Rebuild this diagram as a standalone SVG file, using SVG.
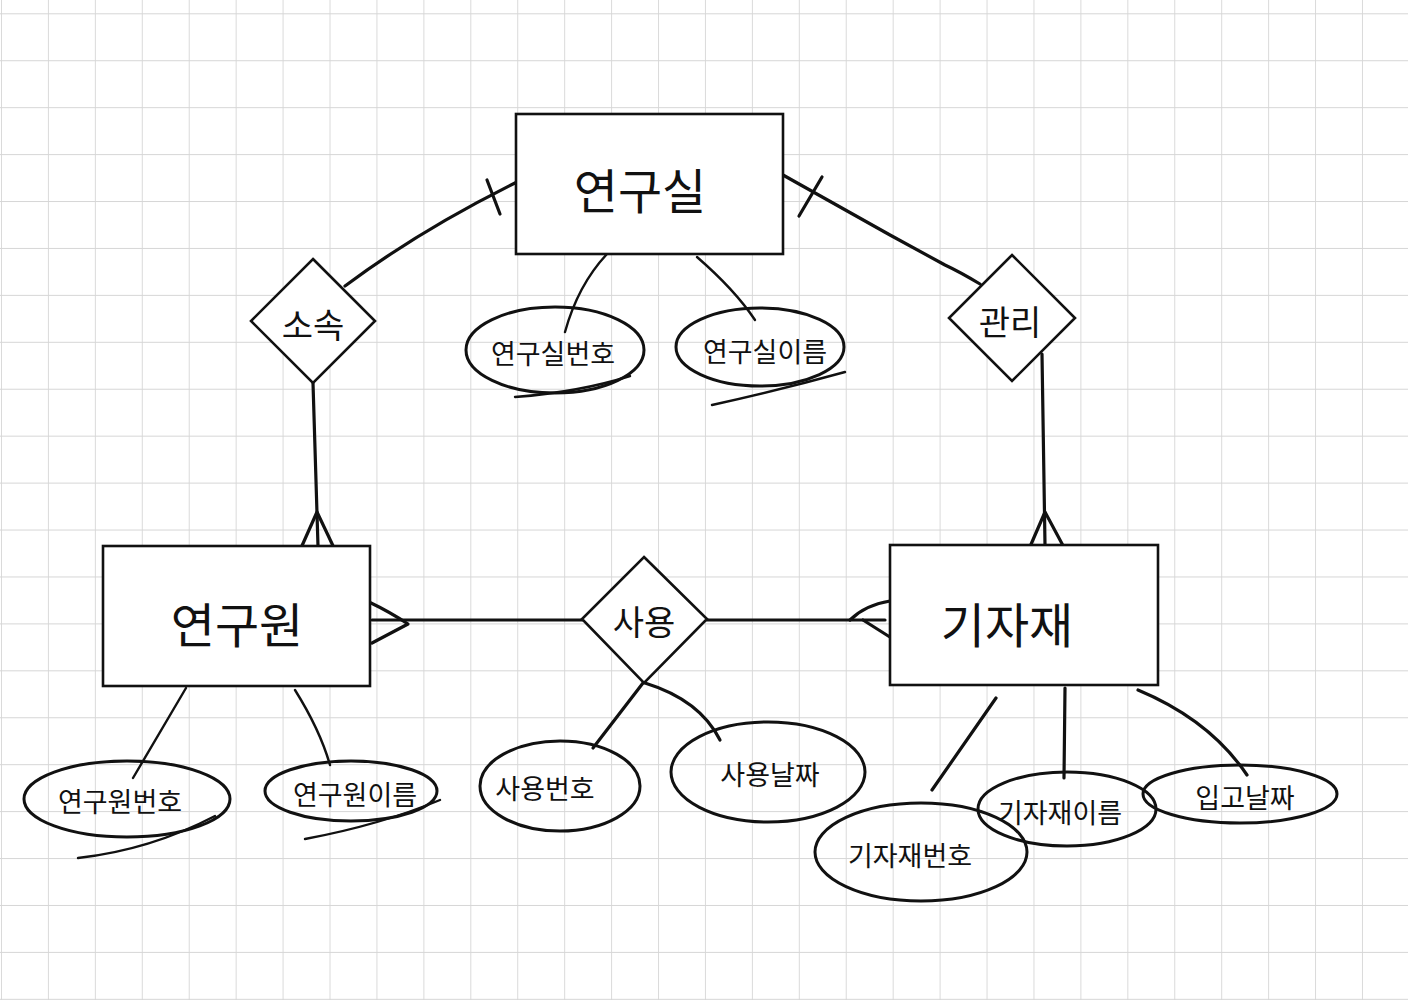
<svg xmlns="http://www.w3.org/2000/svg" width="1408" height="1000" viewBox="0 0 1408 1000">
<defs>
<pattern id="grid" patternUnits="userSpaceOnUse" x="1" y="13.3" width="46.93" height="46.93">
<path d="M0 0 H46.93 M0 0 V46.93" fill="none" stroke="#d6d6d6" stroke-width="1.8"/>
</pattern>
<style>
.ent{fill:#fff;stroke:#111;stroke-width:2.6}
.rel{fill:#fff;stroke:#111;stroke-width:2.6}
.att{fill:none;stroke:#111;stroke-width:3}
.ln{fill:none;stroke:#111;stroke-width:3.2;stroke-linecap:round;stroke-linejoin:round}
.thin{fill:none;stroke:#111;stroke-width:2.4;stroke-linecap:round}
.t{font-family:"Noto Sans CJK KR","Noto Sans",sans-serif;fill:#111;text-anchor:middle;dominant-baseline:central}
.big{font-size:48px}
.mid{font-size:34px}
.sm{font-size:27px}
</style>
</defs>
<rect width="1408" height="1000" fill="#fff"/>
<rect width="1408" height="1000" fill="url(#grid)"/>

<g id="connectors">
<path class="ln" d="M345 286 Q420 230 517 182"/>
<path class="ln" d="M487 180 L500 214"/>
<path class="ln" d="M783 175 L890 235 L945 265 Q960 272 980 284"/>
<path class="ln" d="M822 177 L799 216"/>
<path class="ln" d="M313 383 L318 546"/>
<path class="ln" d="M317 512 L301 548 M317 512 L335 550"/>
<path class="ln" d="M1042 354 L1045 545"/>
<path class="ln" d="M1045 512 L1029 549 M1045 512 L1067 553"/>
<path class="ln" d="M372 620 L583 620"/>
<path class="ln" d="M369 602 Q390 612 408 624 L372 643"/>
<path class="ln" d="M707 620 L885 620"/>
<path class="ln" d="M850 620 Q865 605 890 601 M863 620 L893 639"/>
<path class="thin" d="M607 254 Q578 285 565 332"/>
<path class="thin" d="M697 257 Q735 290 755 320"/>
<path class="thin" d="M186 688 L133 778"/>
<path class="thin" d="M295 690 Q320 730 330 765"/>
<path class="ln" d="M643 683 L593 748"/>
<path class="ln" d="M645 683 Q700 700 720 740"/>
<path class="ln" d="M996 698 L932 790"/>
<path class="ln" d="M1065 688 L1064 778"/>
<path class="ln" d="M1138 690 Q1210 720 1247 775"/>
</g>

<g id="e-lab">
<rect class="ent" x="516" y="114" width="267" height="140"/>
<text class="t big" x="640" y="188">연구실</text>
</g>
<g id="e-researcher">
<rect class="ent" x="103" y="546" width="267" height="140"/>
<text class="t big" x="237" y="622">연구원</text>
</g>
<g id="e-equipment">
<rect class="ent" x="890" y="545" width="268" height="140"/>
<text class="t big" x="1007" y="622">기자재</text>
</g>

<g id="r-belong">
<polygon class="rel" points="313,259 375,321 313,383 251,321"/>
<text class="t mid" x="313" y="323">소속</text>
</g>
<g id="r-manage">
<polygon class="rel" points="1012,255 1075,318 1012,381 949,318"/>
<text class="t mid" x="1010" y="320">관리</text>
</g>
<g id="r-use">
<polygon class="rel" points="644,557 707,619 644,683 582,619"/>
<text class="t mid" x="644" y="620">사용</text>
</g>

<g id="a-labno">
<ellipse class="att" cx="555" cy="350" rx="89" ry="43"/>
<path class="thin" d="M515 397 Q580 392 630 376"/>
<text class="t sm" x="553" y="352">연구실번호</text>
</g>
<g id="a-labname">
<ellipse class="att" cx="760" cy="347" rx="84" ry="39"/>
<path class="thin" d="M712 405 Q780 390 845 372"/>
<text class="t sm" x="765" y="350">연구실이름</text>
</g>
<g id="a-resno">
<ellipse class="att" cx="127" cy="799" rx="103" ry="38"/>
<path class="thin" d="M78 858 Q150 850 215 816"/>
<text class="t sm" x="120" y="800">연구원번호</text>
</g>
<g id="a-resname">
<ellipse class="att" cx="351" cy="791" rx="86" ry="30"/>
<path class="thin" d="M305 839 Q380 825 440 800"/>
<text class="t sm" x="355" y="793">연구원이름</text>
</g>
<g id="a-useno">
<ellipse class="att" cx="560" cy="786" rx="80" ry="45"/>
<text class="t sm" x="545" y="787">사용번호</text>
</g>
<g id="a-usedate">
<ellipse class="att" cx="768" cy="772" rx="97" ry="50"/>
<text class="t sm" x="770" y="773">사용날짜</text>
</g>
<g id="a-eqno">
<ellipse class="att" cx="921" cy="852" rx="106" ry="49"/>
<text class="t sm" x="910" y="854">기자재번호</text>
</g>
<g id="a-eqname">
<ellipse class="att" cx="1067" cy="809" rx="89" ry="37"/>
<text class="t sm" x="1060" y="811">기자재이름</text>
</g>
<g id="a-indate">
<ellipse class="att" cx="1240" cy="794" rx="97" ry="29"/>
<text class="t sm" x="1245" y="796">입고날짜</text>
</g>
</svg>
